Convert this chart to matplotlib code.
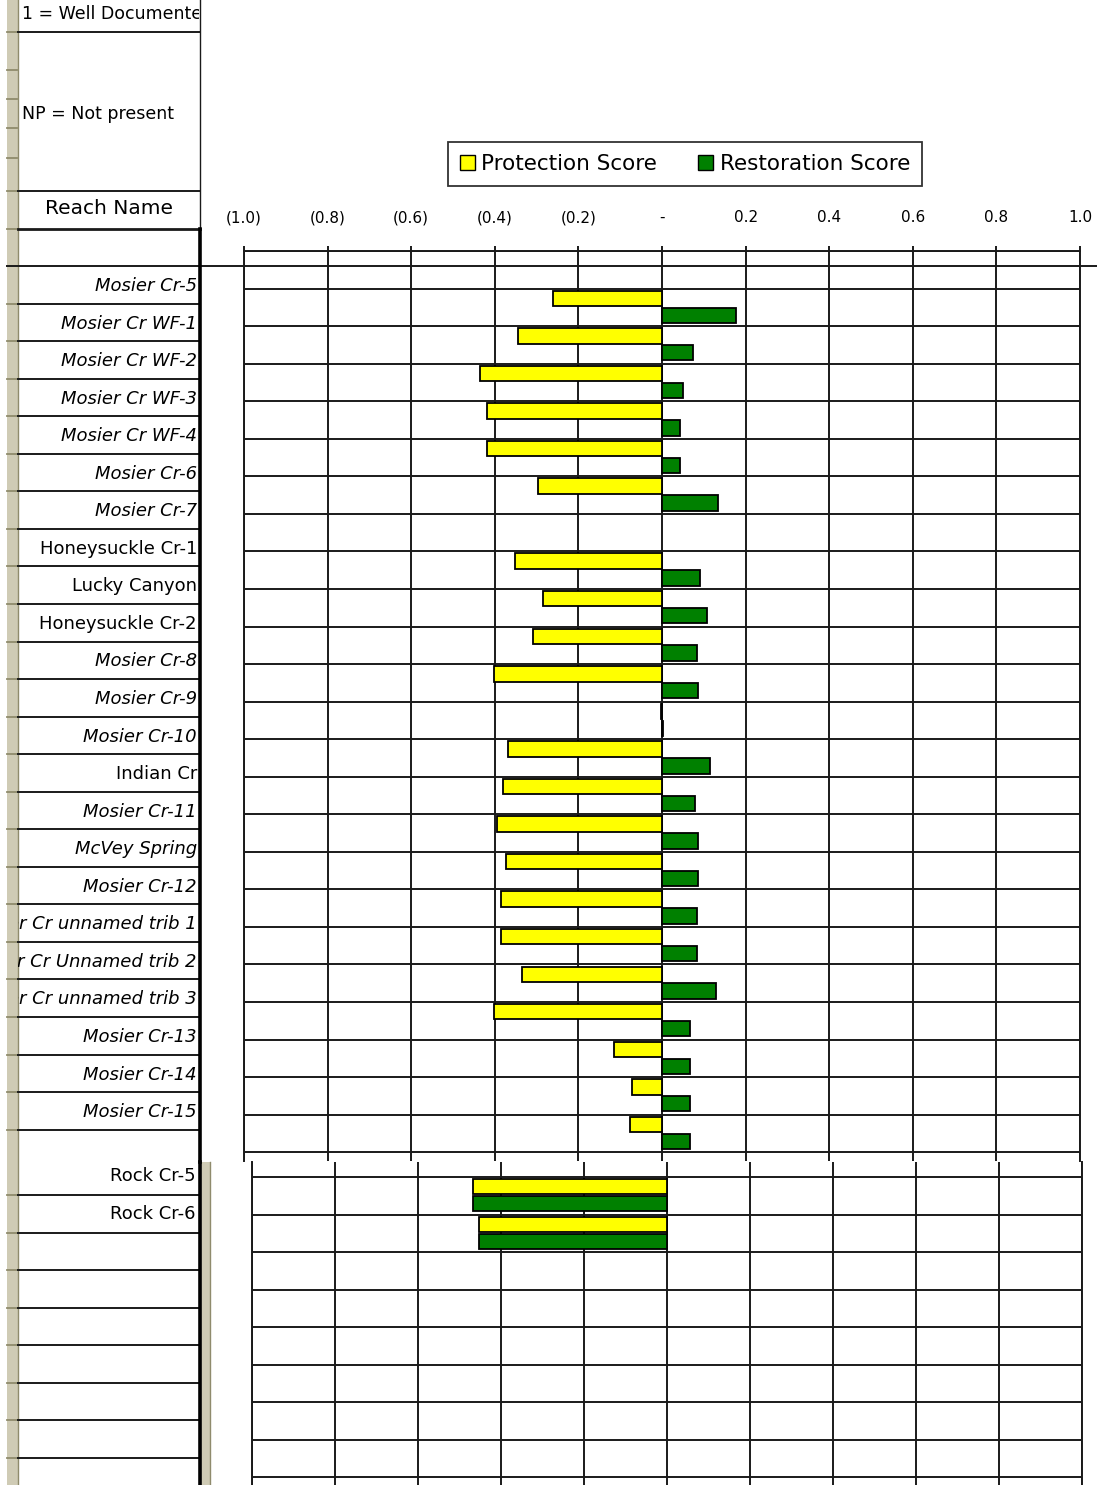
import numpy as np
import matplotlib
matplotlib.use("Agg")
import matplotlib.pyplot as plt
from matplotlib.patches import Patch, Rectangle

plt.rcParams['font.family'] = ['DejaVu Sans']

# reach names shown in the sheet column
reaches = ["Mosier Cr-5", "Mosier Cr WF-1", "Mosier Cr WF-2", "Mosier Cr WF-3",
           "Mosier Cr WF-4", "Mosier Cr-6", "Mosier Cr-7", "Honeysuckle Cr-1",
           "Lucky Canyon", "Honeysuckle Cr-2", "Mosier Cr-8", "Mosier Cr-9",
           "Mosier Cr-10", "Indian Cr", "Mosier Cr-11", "McVey Spring",
           "Mosier Cr-12", "Mosier Cr unnamed trib 1", "Mosier Cr Unnamed trib 2",
           "Mosier Cr unnamed trib 3", "Mosier Cr-13", "Mosier Cr-14", "Mosier Cr-15"]

# chart rows of the upper pane (top to bottom), None = no bar
protection = [None, -0.261, -0.344, -0.435, -0.419, -0.419, -0.297, None,
              -0.352, -0.285, -0.309, -0.402, -0.003, -0.368, -0.380, -0.395,
              -0.373, -0.385, -0.385, -0.335, -0.402, -0.115, -0.072, -0.077]
restoration = [None, 0.176, 0.075, 0.051, 0.043, 0.043, 0.133, None,
               0.091, 0.108, 0.084, 0.086, 0.003, 0.115, 0.079, 0.086,
               0.086, 0.084, 0.084, 0.129, 0.067, 0.067, 0.067, 0.067]

# lower pane
rock = ["Rock Cr-5", "Rock Cr-6"]
rock_protection = [-0.467, -0.453]
rock_restoration = [-0.467, -0.453]

ticks = [-1.0, -0.8, -0.6, -0.4, -0.2, 0.0, 0.2, 0.4, 0.6, 0.8, 1.0]
tick_labels = ["(1.0)", "(0.8)", "(0.6)", "(0.4)", "(0.2)", "-",
               "0.2", "0.4", "0.6", "0.8", "1.0"]

YEL = "#ffff00"
GRN = "#008000"
LINE = "#1a1a1a"

W, H = 1097, 1485
ROW = 37.55


def rect(x0, y0, x1, y1):
    return [x0 / W, 1 - y1 / H, (x1 - x0) / W, (y1 - y0) / H]


fig = plt.figure(figsize=(W / 100, H / 100), dpi=100)


def draw_bars(ax, prot, rest):
    idx = np.arange(len(prot))
    p = np.array([np.nan if v is None else v for v in prot], dtype=float)
    r = np.array([np.nan if v is None else v for v in rest], dtype=float)
    ok = ~np.isnan(p)
    ax.barh(idx[ok] - 0.24, p[ok], height=0.41, color=YEL, edgecolor="black", lw=1.3, zorder=3)
    ax.barh(idx[ok] + 0.21, r[ok], height=0.41, color=GRN, edgecolor="black", lw=1.3, zorder=3)


def style(ax, nrows_bottom, top):
    ax.set_xlim(-1, 1)
    ax.set_ylim(nrows_bottom, top)
    ax.set_yticks(np.arange(-0.5, nrows_bottom, 1))
    ax.set_yticklabels([])
    ax.tick_params(axis="y", length=0)
    ax.set_xticks(ticks)
    ax.grid(True, color=LINE, lw=1.4)
    ax.set_axisbelow(True)
    for s in ("left", "right", "top"):
        ax.spines[s].set_color(LINE)
        ax.spines[s].set_linewidth(1.4)
    ax.spines["bottom"].set_visible(False)


# upper pane chart
ax1 = fig.add_axes(rect(244, 251, 1080, 1161))
draw_bars(ax1, protection, restoration)
style(ax1, -0.5 + (1161 - 251) / ROW, -0.5)
ax1.xaxis.set_ticks_position("top")
ax1.set_xticklabels(tick_labels)
ax1.tick_params(axis="x", direction="out", length=3.6, width=1.4, color=LINE,
                pad=15, labelsize=11)

# lower pane chart
ax2 = fig.add_axes(rect(252, 1162, 1082, 1485))
draw_bars(ax2, rock_protection, rock_restoration)
style(ax2, -0.5 + (1485 - 1177) / ROW, -0.5 - (1177 - 1162) / ROW)
ax2.spines["top"].set_visible(False)
ax2.set_xticklabels([])
ax2.tick_params(axis="x", length=0)

leg = fig.legend([Patch(facecolor=YEL, edgecolor="black"), Patch(facecolor=GRN, edgecolor="black")],
                 ["Protection Score", "Restoration Score"], loc="center",
                 bbox_to_anchor=(685 / W, 1 - 164 / H), ncol=2, fontsize=15.5,
                 frameon=True, fancybox=False, edgecolor="black", handlelength=0.7,
                 handleheight=0.7, handletextpad=0.3, columnspacing=1.9, borderpad=0.55)
leg.get_frame().set_linewidth(1.3)

# spreadsheet overlay
ov = fig.add_axes([0, 0, 1, 1], zorder=5)
ov.set_xlim(0, W)
ov.set_ylim(H, 0)
ov.axis("off")

BEIGE = "#cfcbb5"
OLIVE = "#8f8b6c"
ov.add_patch(Rectangle((7, 0), 11, H, color=BEIGE, lw=0))
ov.plot([17.5, 17.5], [0, H], color=OLIVE, lw=1)
ov.add_patch(Rectangle((201, 1162), 9, H - 1162, color=BEIGE, lw=0))
ov.plot([209.5, 209.5], [1162, H], color=OLIVE, lw=1)

top_rows = [266 + k * ROW for k in range(24)]
bot_rows = [1195 + k * ROW for k in range(8)]
for y in [32, 70, 99, 128, 158, 191, 229] + top_rows + bot_rows:
    ov.plot([7, 17], [y, y], color=OLIVE, lw=1.3)
for y in [32, 191] + top_rows[1:] + bot_rows:
    ov.plot([18, 200], [y, y], color=LINE, lw=1.4)
ov.plot([18, 200], [229, 229], color=LINE, lw=2)
ov.plot([7, W], [266, 266], color=LINE, lw=1.4)
ov.plot([200, 200], [0, 229], color=LINE, lw=1)
ov.plot([200, 200], [229, 1162], color="black", lw=2.6)
ov.plot([199.5, 199.5], [1162, H], color="black", lw=2.6)

cells = fig.add_axes(rect(18, 0, 199, H), zorder=6)
cells.set_xlim(18, 199)
cells.set_ylim(H, 0)
cells.axis("off")
cells.text(22, 14, "1 = Well Documented", fontsize=12.5, va="center", ha="left", clip_on=True)
cells.text(22, 114, "NP = Not present", fontsize=12.5, va="center", ha="left", clip_on=True)
cells.text(109, 209, "Reach Name", fontsize=14.5, va="center", ha="center", clip_on=True)
for k, name in enumerate(reaches):
    st = "italic" if name.startswith(("Mosier", "McVey")) else "normal"
    cells.text(197, top_rows[k] + 20, name, fontsize=13, style=st, va="center",
               ha="right", clip_on=True)
for k, name in enumerate(rock):
    cells.text(196, 1176 + k * ROW, name, fontsize=13, va="center", ha="right", clip_on=True)

fig.savefig("out.png", dpi=100)
